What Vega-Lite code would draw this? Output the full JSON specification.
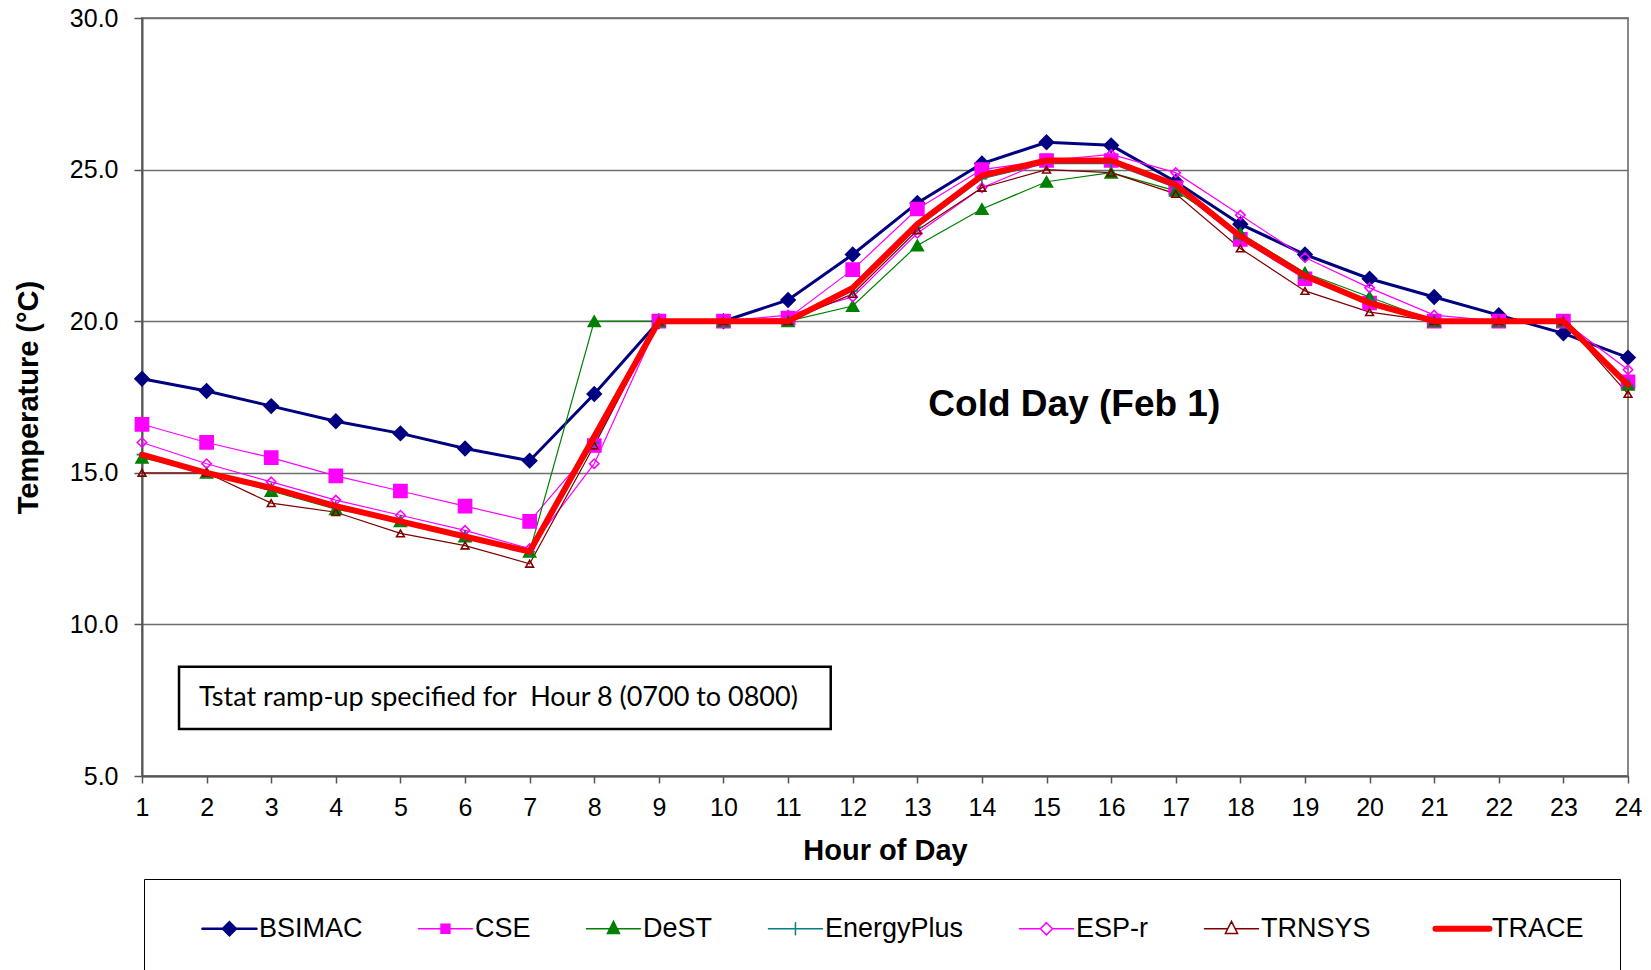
{
  "$schema": "https://vega.github.io/schema/vega-lite/v6.json",
  "width": 1486,
  "height": 758,
  "autosize": {"type": "none"},
  "padding": {"left": 142, "top": 18, "right": 23, "bottom": 194},
  "background": "white",
  "config": {
    "font": "Liberation Sans",
    "view": {"stroke": "#888888", "strokeWidth": 2},
    "axis": {
      "labelFont": "Liberation Sans",
      "labelFontSize": 25,
      "labelColor": "black",
      "titleFont": "Liberation Sans",
      "titleFontSize": 29,
      "titleFontWeight": "bold",
      "titleColor": "black",
      "domainColor": "#555555",
      "domainWidth": 2,
      "tickColor": "#555555",
      "tickWidth": 1.5,
      "gridColor": "#6e6e6e",
      "gridWidth": 1.5
    }
  },
  "datasets": {
    "temps": [
      {"hour": 1, "BSIMAC": 18.1, "CSE": 16.6, "DeST": 15.5, "EnergyPlus": 15.6, "ESP-r": 16.0, "TRNSYS": 15.0, "TRACE": 15.6},
      {"hour": 2, "BSIMAC": 17.7, "CSE": 16.0, "DeST": 15.0, "EnergyPlus": 15.0, "ESP-r": 15.3, "TRNSYS": 15.0, "TRACE": 15.0},
      {"hour": 3, "BSIMAC": 17.2, "CSE": 15.5, "DeST": 14.4, "EnergyPlus": 14.5, "ESP-r": 14.7, "TRNSYS": 14.0, "TRACE": 14.5},
      {"hour": 4, "BSIMAC": 16.7, "CSE": 14.9, "DeST": 13.8, "EnergyPlus": 13.9, "ESP-r": 14.1, "TRNSYS": 13.7, "TRACE": 13.9},
      {"hour": 5, "BSIMAC": 16.3, "CSE": 14.4, "DeST": 13.4, "EnergyPlus": 13.4, "ESP-r": 13.6, "TRNSYS": 13.0, "TRACE": 13.4},
      {"hour": 6, "BSIMAC": 15.8, "CSE": 13.9, "DeST": 12.9, "EnergyPlus": 12.9, "ESP-r": 13.1, "TRNSYS": 12.6, "TRACE": 12.9},
      {"hour": 7, "BSIMAC": 15.4, "CSE": 13.4, "DeST": 12.4, "EnergyPlus": 12.4, "ESP-r": 12.5, "TRNSYS": 12.0, "TRACE": 12.4},
      {"hour": 8, "BSIMAC": 17.6, "CSE": 15.9, "DeST": 20.0, "EnergyPlus": 16.0, "ESP-r": 15.3, "TRNSYS": 15.9, "TRACE": 16.2},
      {"hour": 9, "BSIMAC": 20.0, "CSE": 20.0, "DeST": 20.0, "EnergyPlus": 20.0, "ESP-r": 20.0, "TRNSYS": 20.0, "TRACE": 20.0},
      {"hour": 10, "BSIMAC": 20.0, "CSE": 20.0, "DeST": 20.0, "EnergyPlus": 20.0, "ESP-r": 20.0, "TRNSYS": 20.0, "TRACE": 20.0},
      {"hour": 11, "BSIMAC": 20.7, "CSE": 20.1, "DeST": 20.0, "EnergyPlus": 20.0, "ESP-r": 20.2, "TRNSYS": 20.0, "TRACE": 20.0},
      {"hour": 12, "BSIMAC": 22.2, "CSE": 21.7, "DeST": 20.5, "EnergyPlus": 21.0, "ESP-r": 20.8, "TRNSYS": 20.9, "TRACE": 21.1},
      {"hour": 13, "BSIMAC": 23.9, "CSE": 23.7, "DeST": 22.5, "EnergyPlus": 23.1, "ESP-r": 22.9, "TRNSYS": 23.0, "TRACE": 23.2},
      {"hour": 14, "BSIMAC": 25.2, "CSE": 25.0, "DeST": 23.7, "EnergyPlus": 24.7, "ESP-r": 24.4, "TRNSYS": 24.4, "TRACE": 24.8},
      {"hour": 15, "BSIMAC": 25.9, "CSE": 25.3, "DeST": 24.6, "EnergyPlus": 25.2, "ESP-r": 25.3, "TRNSYS": 25.0, "TRACE": 25.3},
      {"hour": 16, "BSIMAC": 25.8, "CSE": 25.3, "DeST": 24.9, "EnergyPlus": 25.2, "ESP-r": 25.5, "TRNSYS": 24.9, "TRACE": 25.3},
      {"hour": 17, "BSIMAC": 24.6, "CSE": 24.4, "DeST": 24.3, "EnergyPlus": 24.4, "ESP-r": 24.9, "TRNSYS": 24.2, "TRACE": 24.5},
      {"hour": 18, "BSIMAC": 23.2, "CSE": 22.7, "DeST": 22.9, "EnergyPlus": 22.8, "ESP-r": 23.5, "TRNSYS": 22.4, "TRACE": 22.8},
      {"hour": 19, "BSIMAC": 22.2, "CSE": 21.4, "DeST": 21.6, "EnergyPlus": 21.5, "ESP-r": 22.1, "TRNSYS": 21.0, "TRACE": 21.5},
      {"hour": 20, "BSIMAC": 21.4, "CSE": 20.6, "DeST": 20.8, "EnergyPlus": 20.7, "ESP-r": 21.1, "TRNSYS": 20.3, "TRACE": 20.6},
      {"hour": 21, "BSIMAC": 20.8, "CSE": 20.0, "DeST": 20.0, "EnergyPlus": 20.0, "ESP-r": 20.2, "TRNSYS": 20.0, "TRACE": 20.0},
      {"hour": 22, "BSIMAC": 20.2, "CSE": 20.0, "DeST": 20.0, "EnergyPlus": 20.0, "ESP-r": 20.0, "TRNSYS": 20.0, "TRACE": 20.0},
      {"hour": 23, "BSIMAC": 19.6, "CSE": 20.0, "DeST": 20.0, "EnergyPlus": 20.0, "ESP-r": 20.0, "TRNSYS": 20.0, "TRACE": 20.0},
      {"hour": 24, "BSIMAC": 18.8, "CSE": 18.0, "DeST": 17.9, "EnergyPlus": 17.9, "ESP-r": 18.4, "TRNSYS": 17.6, "TRACE": 17.9}
    ],
    "box": [
      {"hour": 1.573, "hour2": 11.66, "temp": 8.6, "temp2": 6.55}
    ],
    "note": [
      {"hour": 1.882, "temp": 7.57, "label": "Tstat ramp-up specified for \u00a0Hour 8 (0700 to 0800)"}
    ],
    "title": [
      {"hour": 15.43, "temp": 17.24, "label": "Cold Day (Feb 1)"}
    ]
  },
  "encoding": {
    "x": {
      "field": "hour",
      "type": "quantitative",
      "scale": {"domain": [1, 24], "nice": false, "zero": false},
      "axis": {
        "title": "Hour of Day",
        "values": [1,2,3,4,5,6,7,8,9,10,11,12,13,14,15,16,17,18,19,20,21,22,23,24],
        "format": "d",
        "grid": false,
        "tickSize": 7,
        "labelPadding": 12,
        "titlePadding": 16,
        "labelFlush": false,
        "labelOverlap": false
      }
    },
    "y": {
      "field": "temp",
      "type": "quantitative",
      "scale": {"domain": [5, 30], "nice": false, "zero": false},
      "axis": {
        "title": "Temperature (°C)",
        "values": [5, 10, 15, 20, 25, 30],
        "format": ".1f",
        "grid": true,
        "tickSize": 8,
        "labelPadding": 16,
        "titlePadding": 26,
        "labelFlush": false,
        "labelOverlap": false
      }
    }
  },
  "layer": [
    {
      "data": {"name": "box"},
      "mark": {"type": "rect", "fill": "white", "stroke": "black", "strokeWidth": 2.5},
      "encoding": {"x2": {"field": "hour2"}, "y2": {"field": "temp2"}}
    },
    {
      "data": {"name": "note"},
      "mark": {"type": "text", "align": "left", "baseline": "middle", "font": "Lato", "fontSize": 27, "color": "black"},
      "encoding": {"text": {"field": "label"}}
    },
    {
      "data": {"name": "temps"},
      "mark": {"type": "line", "color": "#000080", "strokeWidth": 3},
      "encoding": {"y": {"field": "BSIMAC", "type": "quantitative"}}
    },
    {
      "data": {"name": "temps"},
      "transform": [
        {"fold": ["CSE", "DeST", "EnergyPlus", "ESP-r", "TRNSYS"], "as": ["series", "temp"]}
      ],
      "mark": {"type": "line", "strokeWidth": 1.2},
      "encoding": {
        "color": {
          "field": "series",
          "type": "nominal",
          "scale": {
            "domain": ["BSIMAC", "CSE", "DeST", "EnergyPlus", "ESP-r", "TRNSYS", "TRACE"],
            "range": ["#000080", "#FF00FF", "#008000", "#008080", "#FF00FF", "#800000", "#FF0000"]
          },
          "legend": {
            "orient": "none",
            "legendX": 2,
            "legendY": 861,
            "direction": "horizontal",
            "columns": 7,
            "title": "\u00a0",
            "titleOrient": "left",
            "titleFontSize": 20,
            "titlePadding": 23,
            "padding": 36,
            "strokeColor": "#000000",
            "fillColor": "white",
            "labelFont": "Liberation Sans",
            "labelFontSize": 27,
            "labelColor": "black",
            "labelOffset": 29,
            "labelLimit": 400,
            "labelExpr": "datum.label === 'TRACE' ? 'TRACE\u00a0\u00a0' : datum.label",
            "columnPadding": 52,
            "symbolSize": 729,
            "symbolStrokeWidth": 1.5,
            "encode": {
              "symbols": {
                "update": {
                  "shape": {"signal": "datum.value === 'BSIMAC' ? 'M-1.04,0H2.96M0.96,-0.48L1.44,0L0.96,0.48L0.48,0Z' : datum.value === 'CSE' ? 'M-1.04,0H2.96M0.63,-0.33H1.29V0.33H0.63Z' : datum.value === 'DeST' ? 'M-1.04,0H2.96M0.96,-0.55L1.41,0.35H0.51Z' : datum.value === 'EnergyPlus' ? 'M-1.04,0H2.96M0.96,-0.45V0.45' : datum.value === 'ESP-r' ? 'M-1.04,0H0.51M1.41,0H2.96M0.96,-0.45L1.41,0L0.96,0.45L0.51,0Z' : datum.value === 'TRNSYS' ? 'M-1.04,0H0.685M1.235,0H2.96M0.96,-0.55L1.41,0.35H0.51Z' : 'M-1.04,0H2.96'"},
                  "size": {"value": 729},
                  "fill": {"signal": "datum.value === 'BSIMAC' ? '#000080' : datum.value === 'CSE' ? '#FF00FF' : datum.value === 'DeST' ? '#008000' : 'white'"},
                  "stroke": {"signal": "datum.value === 'BSIMAC' ? '#000080' : datum.value === 'CSE' ? '#FF00FF' : datum.value === 'DeST' ? '#008000' : datum.value === 'EnergyPlus' ? '#008080' : datum.value === 'ESP-r' ? '#FF00FF' : datum.value === 'TRNSYS' ? '#800000' : '#FF0000'"},
                  "strokeWidth": {"signal": "datum.value === 'BSIMAC' ? 2.5 : datum.value === 'TRACE' ? 6 : 1.5"},
                  "strokeCap": {"value": "round"},
                  "opacity": {"value": 1},
                  "fillOpacity": {"value": 1},
                  "strokeOpacity": {"value": 1}
                }
              }
            }
          }
        }
      }
    },
    {
      "data": {"name": "temps"},
      "transform": [
        {"fold": ["BSIMAC", "CSE", "DeST", "EnergyPlus", "ESP-r", "TRNSYS"], "as": ["model", "temp"]}
      ],
      "mark": {"type": "point", "filled": true, "strokeWidth": 1.6, "opacity": 1},
      "encoding": {
        "shape": {
          "field": "model",
          "type": "nominal",
          "scale": {
            "domain": ["BSIMAC", "CSE", "DeST", "EnergyPlus", "ESP-r", "TRNSYS"],
            "range": ["diamond", "square", "triangle-up", "M-1,0H1M0,-1V1", "diamond", "triangle-up"]
          },
          "legend": null
        },
        "size": {
          "field": "model",
          "type": "nominal",
          "scale": {
            "domain": ["BSIMAC", "CSE", "DeST", "EnergyPlus", "ESP-r", "TRNSYS"],
            "range": [200, 60, 240, 110, 260, 260]
          },
          "legend": null
        },
        "fill": {
          "field": "model",
          "type": "nominal",
          "scale": {
            "domain": ["BSIMAC", "CSE", "DeST", "EnergyPlus", "ESP-r", "TRNSYS"],
            "range": ["#000080", "#FF00FF", "#008000", "transparent", "transparent", "transparent"]
          },
          "legend": null
        },
        "stroke": {
          "field": "model",
          "type": "nominal",
          "scale": {
            "domain": ["BSIMAC", "CSE", "DeST", "EnergyPlus", "ESP-r", "TRNSYS"],
            "range": ["#000080", "#FF00FF", "#008000", "#008080", "#FF00FF", "#800000"]
          },
          "legend": null
        }
      }
    },
    {
      "data": {"name": "temps"},
      "mark": {"type": "line", "color": "#FF0000", "strokeWidth": 6, "strokeJoin": "round", "strokeCap": "round"},
      "encoding": {
        "y": {"field": "TRACE", "type": "quantitative"}
      }
    },
    {
      "data": {"name": "title"},
      "mark": {"type": "text", "align": "center", "baseline": "middle", "font": "Liberation Sans", "fontWeight": "bold", "fontSize": 37, "color": "black"},
      "encoding": {"text": {"field": "label"}}
    }
  ]
}
